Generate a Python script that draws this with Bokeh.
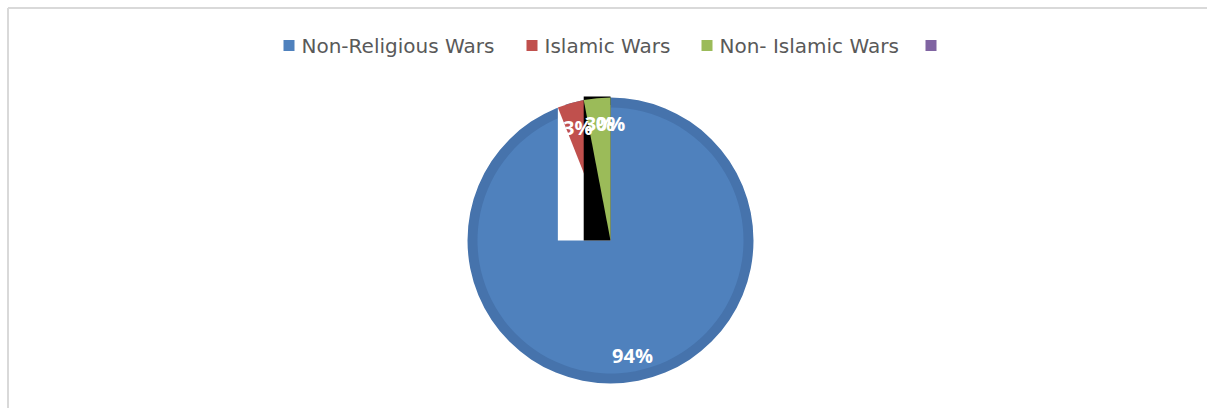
import math
from bokeh.plotting import figure
from bokeh.models import Range1d
from bokeh.core.properties import value
from bokeh.embed import file_html
from bokeh.resources import INLINE

# ---- data ----
categories = ["Non-Religious Wars", "Islamic Wars", "Non- Islamic Wars", ""]
shares = [94, 3, 3, 0]
labels = ["94%", "3%", "3%", "0%"]
colors = ["#4F81BD", "#C0504D", "#9BBB59", "#8064A2"]

# ---- layout ----
W, H = 1207, 408
CX, CY = 610, 168          # pie centre (data units = px)
R = 143
RING = 10
LABEL_R = 0.82 * R
legend_x = [288.5, 531.5, 706.5, 930.5]
legend_y = 363
label_font = value("Open Sans")
legend_font = value("DejaVu Sans")

p = figure(width=W, height=H, output_backend="svg", toolbar_location=None,
           x_range=Range1d(0, W), y_range=Range1d(0, H), min_border=0)
p.axis.visible = False
p.grid.visible = False
p.outline_line_color = None
p.background_fill_color = "white"

# chart-area border (left and top visible)
p.segment(x0=[7.5, 7.5], y0=[-20, 400.5], x1=[7.5, 1300], y1=[400.5, 400.5],
          line_color="#d9d9d9", line_width=2)

total = float(sum(shares))
cum = 0.0
starts, ends = [], []
for s in shares:
    a0 = cum / total * 2 * math.pi
    cum += s
    a1 = cum / total * 2 * math.pi
    # Excel: start at 12 o'clock, clockwise
    starts.append(math.pi / 2 - a1)
    ends.append(math.pi / 2 - a0)

# darker ring for the first (blue) slice
p.wedge(x=[CX], y=[CY], radius=R, radius_units="screen",
        start_angle=[0], end_angle=[2 * math.pi], color="#4673AC", line_color=None)
p.wedge(x=[CX], y=[CY], radius=R - RING, radius_units="screen",
        start_angle=[starts[0]], end_angle=[ends[0]], color=colors[0], line_color=None)

# rendering artefacts of the small slices: their bounding boxes
def bbox(i):
    a_lo = math.pi / 2 - ends[i]
    a_hi = math.pi / 2 - starts[i]
    xs = [CX, CX + R * math.sin(a_lo), CX + R * math.sin(a_hi)]
    ys = [CY, CY + R * math.cos(a_lo), CY + R * math.cos(a_hi)]
    return min(xs), max(xs), min(ys), max(ys)

l, r_, b, t = bbox(1)
p.quad(left=[l], right=[r_], bottom=[b], top=[t - 5], color="white", line_color=None)
p.wedge(x=[CX], y=[CY], radius=R, radius_units="screen",
        start_angle=[starts[1]], end_angle=[ends[1]], color=colors[1], line_color=None)
l, r_, b, t = bbox(2)
p.quad(left=[l], right=[r_], bottom=[b], top=[t + 1], color="black", line_color=None)
p.wedge(x=[CX], y=[CY], radius=R, radius_units="screen",
        start_angle=[starts[2]], end_angle=[ends[2]], color=colors[2], line_color=None)
if shares[3] > 0:
    p.wedge(x=[CX], y=[CY], radius=R, radius_units="screen",
            start_angle=[starts[3]], end_angle=[ends[3]], color=colors[3], line_color=None)

# data labels
lx, ly = [], []
for s0, e0 in zip(starts, ends):
    mid = (s0 + e0) / 2
    lx.append(CX + LABEL_R * math.cos(mid))
    ly.append(CY + LABEL_R * math.sin(mid))
p.text(x=lx, y=ly, text=labels, text_color="white", text_font=label_font,
       text_font_style="bold", text_font_size="20px",
       text_align="center", text_baseline="middle")

# legend
for i, cat in enumerate(categories):
    p.scatter(x=[legend_x[i]], y=[legend_y], marker="square", size=11,
              fill_color=colors[i], line_color=None)
    if cat:
        p.text(x=[legend_x[i] + 12.5], y=[legend_y], text=[cat], text_color="#595959",
               text_font=legend_font, text_font_size="20px",
               text_align="left", text_baseline="middle")

open("out.html", "w").write(file_html(p, INLINE))
